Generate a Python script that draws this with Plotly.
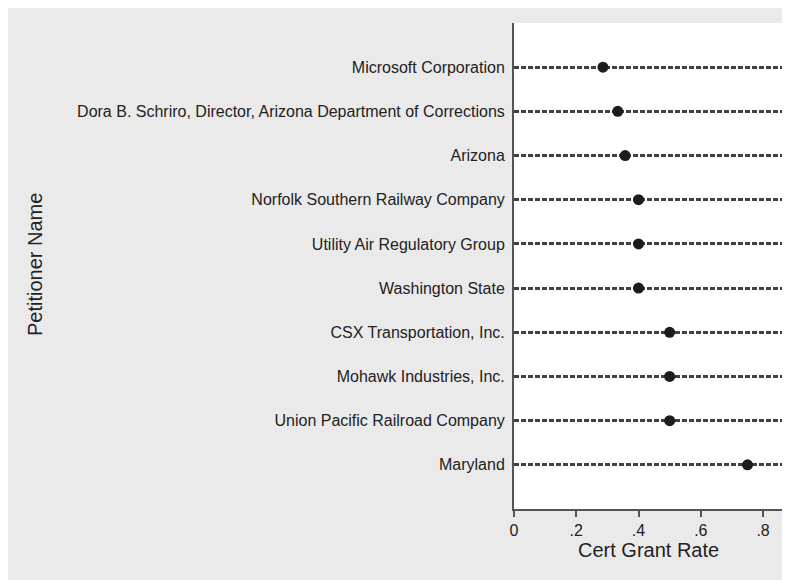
import plotly.graph_objects as go

petitioners = [
    "Microsoft Corporation",
    "Dora B. Schriro, Director, Arizona Department of Corrections",
    "Arizona",
    "Norfolk Southern Railway Company",
    "Utility Air Regulatory Group",
    "Washington State",
    "CSX Transportation, Inc.",
    "Mohawk Industries, Inc.",
    "Union Pacific Railroad Company",
    "Maryland",
]
cert_rate = [0.2857, 0.3333, 0.3571, 0.4, 0.4, 0.4, 0.5, 0.5, 0.5, 0.75]
tick_vals = [0, 0.2, 0.4, 0.6, 0.8]
tick_text = ["0", ".2", ".4", ".6", ".8"]

W, H = 782, 572
L, R, T, B = 506, 7, 15, 71
pw = W - L - R
ph = H - T - B
font = "Liberation Sans, Arial, sans-serif"

fig = go.Figure()
fig.add_trace(go.Scatter(
    x=cert_rate, y=petitioners, mode="markers",
    marker=dict(color="#1c1c1c", size=11),
    showlegend=False, hoverinfo="x+y",
))

def px_x(p):
    return (p - L) / pw

def px_y(p):
    return (H - B - p) / ph

fig.update_layout(
    width=W, height=H,
    margin=dict(l=L, r=R, t=T, b=B),
    paper_bgcolor="#eaeaea",
    plot_bgcolor="white",
    font=dict(family=font, size=16, color="#222"),
    annotations=[
        dict(text="Petitioner Name", xref="paper", yref="paper", x=px_x(27), y=px_y(257),
             textangle=-90, showarrow=False, font=dict(size=20), xanchor="center", yanchor="middle"),
        dict(text="Cert Grant Rate", xref="paper", yref="paper", x=px_x(640), y=px_y(542),
             showarrow=False, font=dict(size=20), xanchor="center", yanchor="middle"),
    ],
)
fig.update_xaxes(
    range=[0, 0.864], tickvals=tick_vals, ticktext=tick_text,
    showline=True, linecolor="#555", linewidth=2,
    ticks="outside", ticklen=6, tickcolor="#555", tickwidth=2,
    showgrid=False, zeroline=False, tickfont=dict(size=16),
)
fig.update_yaxes(
    type="category", categoryorder="array", categoryarray=petitioners[::-1],
    range=[-1, 10],
    showline=True, linecolor="#555", linewidth=2,
    ticks="outside", ticklen=4, tickcolor="rgba(0,0,0,0)",
    showgrid=True, gridcolor="#404040", gridwidth=2.5, griddash="5px,2px",
    zeroline=False,
)

fig.write_html("out.html")
